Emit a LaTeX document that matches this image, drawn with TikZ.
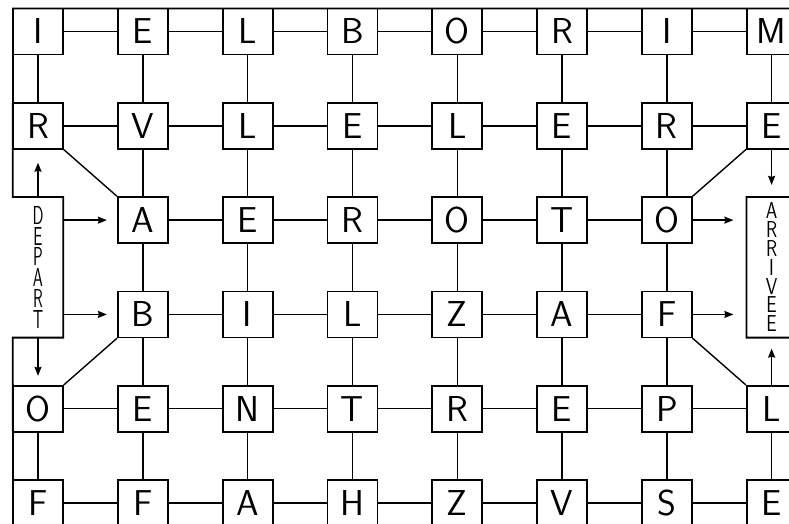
\documentclass[tikz,border=0pt]{standalone}
\usepackage{fontspec}
\usepackage{tikz}
\usetikzlibrary{arrows.meta}
\newcommand\vword[2]{\scalebox{#1}[1]{\parbox{30pt}{\centering #2}}}

\begin{document}
\begin{tikzpicture}[x=1pt,y=-1pt,>={Stealth[length=9pt,width=7pt,inset=1pt]},line cap=round,
  cell/.style={draw,line width=1.8pt,minimum width=50pt,minimum height=46pt,inner sep=0pt,font=\sffamily\fontsize{36}{36}\selectfont},
  gate/.style={minimum width=50pt,minimum height=140.3pt,inner sep=0pt},
  link/.style={line width=1.4pt},
  frame/.style={line width=1.8pt,line join=miter}]
\useasboundingbox (0,0) rectangle (789,523);
\node[cell] (c00) at (38,31.5) {I};
\node[cell] (c01) at (142.8,31.5) {E};
\node[cell] (c02) at (247.6,31.5) {L};
\node[cell] (c03) at (352.4,31.5) {B};
\node[cell] (c04) at (457.2,31.5) {O};
\node[cell] (c05) at (562,31.5) {R};
\node[cell] (c06) at (666.8,31.5) {I};
\node[cell] (c07) at (771.6,31.5) {M};
\node[cell] (c10) at (38,125.8) {R};
\node[cell] (c11) at (142.8,125.8) {V};
\node[cell] (c12) at (247.6,125.8) {L};
\node[cell] (c13) at (352.4,125.8) {E};
\node[cell] (c14) at (457.2,125.8) {L};
\node[cell] (c15) at (562,125.8) {E};
\node[cell] (c16) at (666.8,125.8) {R};
\node[cell] (c17) at (771.6,125.8) {E};
\node[cell] (c21) at (142.8,220.1) {A};
\node[cell] (c22) at (247.6,220.1) {E};
\node[cell] (c23) at (352.4,220.1) {R};
\node[cell] (c24) at (457.2,220.1) {O};
\node[cell] (c25) at (562,220.1) {T};
\node[cell] (c26) at (666.8,220.1) {O};
\node[cell] (c31) at (142.8,314.4) {B};
\node[cell] (c32) at (247.6,314.4) {I};
\node[cell] (c33) at (352.4,314.4) {L};
\node[cell] (c34) at (457.2,314.4) {Z};
\node[cell] (c35) at (562,314.4) {A};
\node[cell] (c36) at (666.8,314.4) {F};
\node[cell] (c40) at (38,408.7) {O};
\node[cell] (c41) at (142.8,408.7) {E};
\node[cell] (c42) at (247.6,408.7) {N};
\node[cell] (c43) at (352.4,408.7) {T};
\node[cell] (c44) at (457.2,408.7) {R};
\node[cell] (c45) at (562,408.7) {E};
\node[cell] (c46) at (666.8,408.7) {P};
\node[cell] (c47) at (771.6,408.7) {L};
\node[cell] (c50) at (38,503) {F};
\node[cell] (c51) at (142.8,503) {F};
\node[cell] (c52) at (247.6,503) {A};
\node[cell] (c53) at (352.4,503) {H};
\node[cell] (c54) at (457.2,503) {Z};
\node[cell] (c55) at (562,503) {V};
\node[cell] (c56) at (666.8,503) {S};
\node[cell] (c57) at (771.6,503) {E};
\node[gate,font=\sffamily\fontsize{26}{20.8}\selectfont] (depart) at (38,267.25) {\vword{.62}{D\\E\\P\\A\\R\\T}};
\node[gate,font=\sffamily\fontsize{23}{18.8}\selectfont] (arrivee) at (771.6,267.25) {\vword{.8}{A\\R\\R\\I\\V\\E\\E}};
\coordinate (tl) at (13,8.5);
\coordinate (tr) at (796.6,8.5);
\coordinate (br) at (796.6,526);
\coordinate (bl) at (13,526);
\draw[frame] (depart.north west) -- (tl) -- (tr) -- (arrivee.north east) -- (arrivee.north west) -- (arrivee.south west) -- (arrivee.south east) -- (br) -- (bl) -- (depart.south west) -- (depart.south east) -- (depart.north east) -- cycle;
\draw[link] (c00) -- (c01) -- (c02) -- (c03) -- (c04) -- (c05) -- (c06) -- (c07);
\draw[link] (c10) -- (c11) -- (c12) -- (c13) -- (c14) -- (c15) -- (c16) -- (c17);
\draw[link] (c21) -- (c22) -- (c23) -- (c24) -- (c25) -- (c26);
\draw[link] (c31) -- (c32) -- (c33) -- (c34) -- (c35) -- (c36);
\draw[link] (c40) -- (c41) -- (c42) -- (c43) -- (c44) -- (c45) -- (c46) -- (c47);
\draw[link] (c50) -- (c51) -- (c52) -- (c53) -- (c54) -- (c55) -- (c56) -- (c57);
\draw[link] (c00) -- (c10);
\draw[link] (c40) -- (c50);
\draw[link] (c01) -- (c11) -- (c21) -- (c31) -- (c41) -- (c51);
\draw[link] (c02) -- (c12) -- (c22) -- (c32) -- (c42) -- (c52);
\draw[link] (c03) -- (c13) -- (c23) -- (c33) -- (c43) -- (c53);
\draw[link] (c04) -- (c14) -- (c24) -- (c34) -- (c44) -- (c54);
\draw[link] (c05) -- (c15) -- (c25) -- (c35) -- (c45) -- (c55);
\draw[link] (c06) -- (c16) -- (c26) -- (c36) -- (c46) -- (c56);
\draw[link] (c07) -- (c17);
\draw[link] (c47) -- (c57);
\draw[link] (c10.south east) -- (c21.north west);
\draw[link] (c31.south west) -- (c40.north east);
\draw[link] (c17.south west) -- (c26.north east);
\draw[link] (c36.south east) -- (c47.north west);
\draw[link,->,shorten >=13pt] (depart) -- (c10);
\draw[link,->,shorten >=9pt] (depart) -- (c40);
\draw[link,->,shorten >=10pt] (depart.east |- c21) -- (c21);
\draw[link,->,shorten >=10pt] (depart.east |- c31) -- (c31);
\draw[link,->,shorten >=13pt] (c26) -- (c26 -| arrivee.west);
\draw[link,->,shorten >=13pt] (c36) -- (c36 -| arrivee.west);
\draw[link,->,shorten >=12pt] (c17) -- (arrivee);
\draw[link,->,shorten >=11pt] (c47) -- (arrivee);
\end{tikzpicture}
\end{document}
